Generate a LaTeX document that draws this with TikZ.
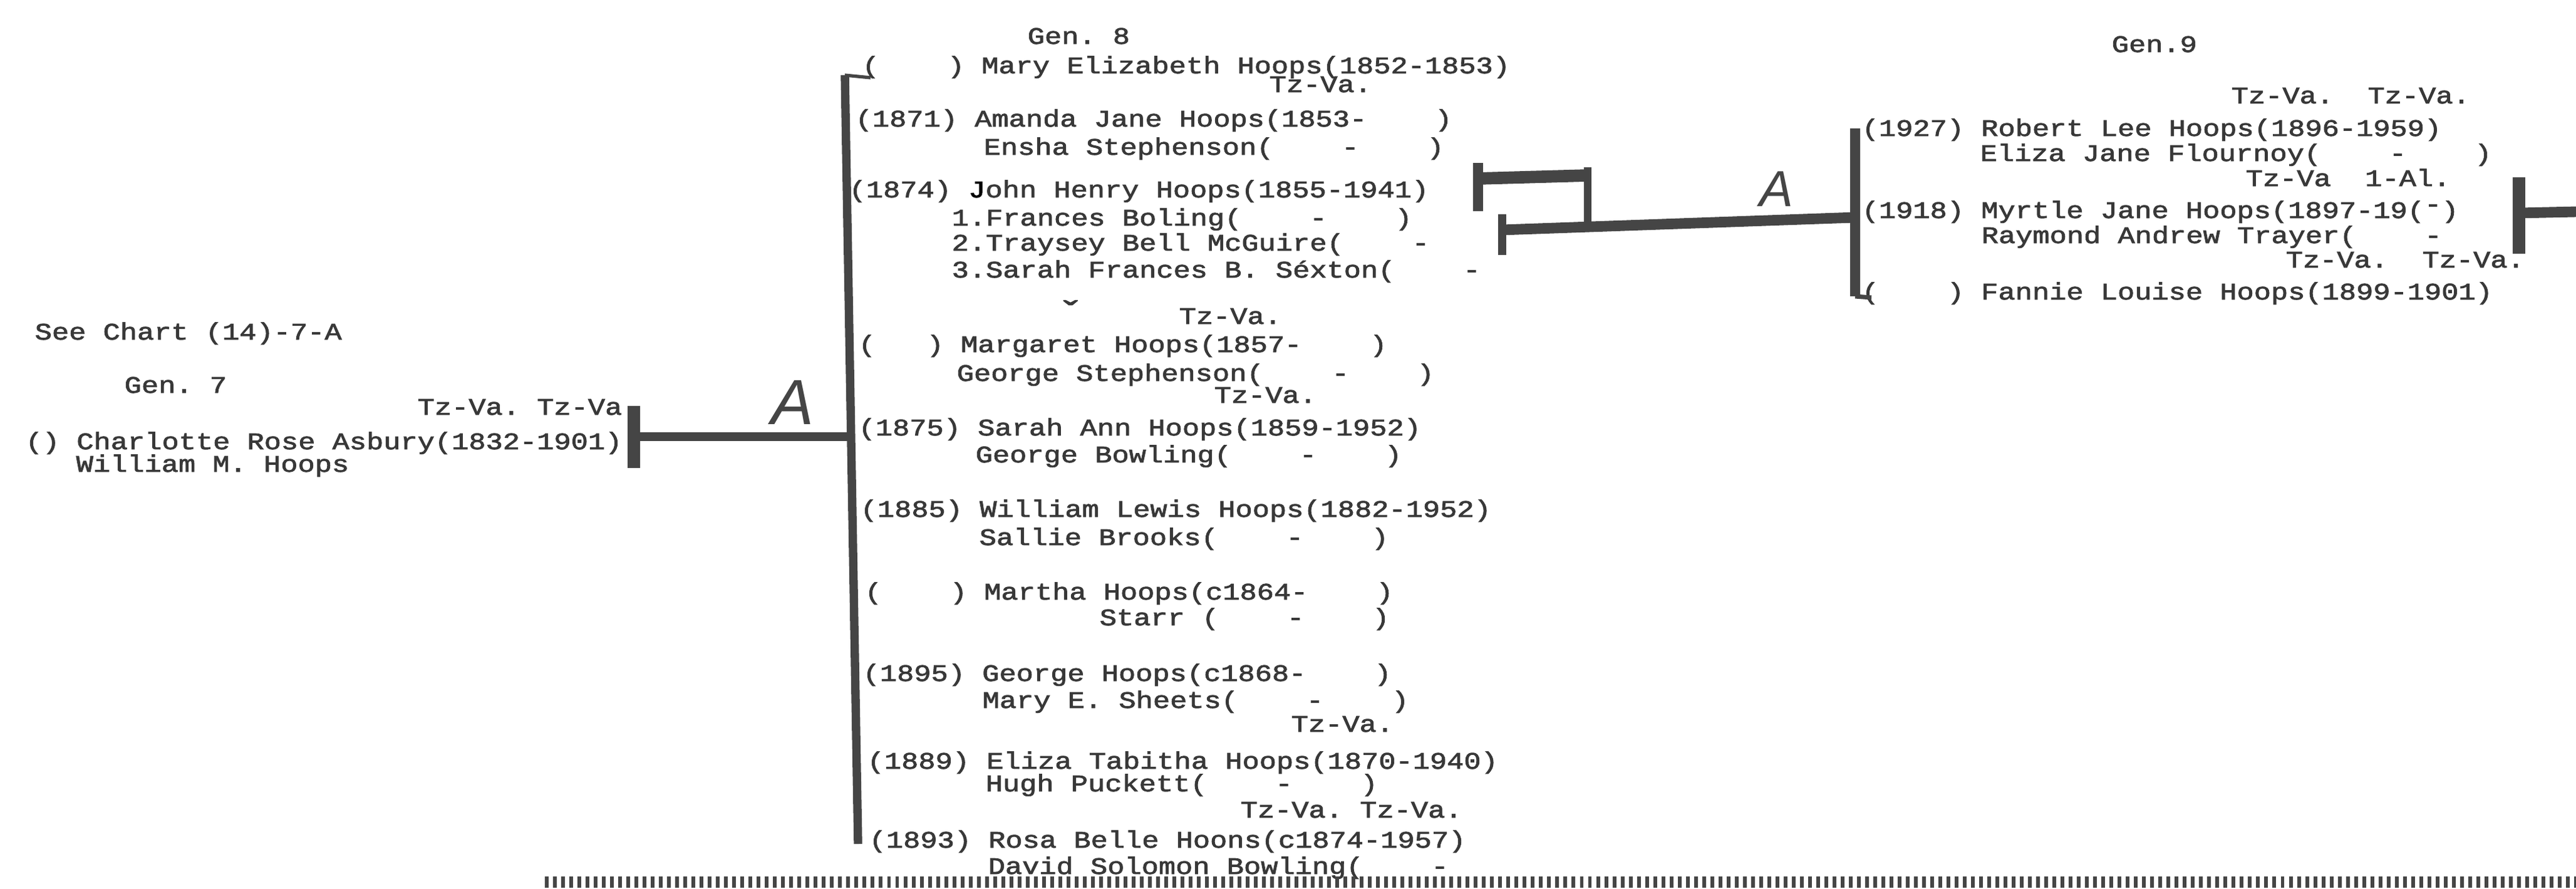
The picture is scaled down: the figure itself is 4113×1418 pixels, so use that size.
\documentclass[tikz,border=0pt]{standalone}
\usepackage{fontspec}
\usepackage{tikz}
\newfontfamily\typer[FakeStretch=1.2,FakeBold=2.2]{Liberation Mono}
\newfontfamily\handfont{Liberation Sans}
\definecolor{typeink}{HTML}{383838}
\definecolor{barink}{HTML}{454545}
\tikzstyle{typed}=[inner sep=0pt, text=typeink, font=\typer\fontsize{10.75pt}{12pt}\selectfont]
\tikzstyle{chart bar}=[draw=barink, line width=4pt, line cap=butt]
\tikzstyle{heavy bar}=[chart bar, line width=5.6pt]
\tikzstyle{thin bar}=[chart bar, line width=3.4pt]
\tikzstyle{hand mark}=[inner sep=0pt, text=barink, font=\handfont\itshape]
\tikzstyle{scan band}=[draw=barink, line width=5pt, dash pattern=on 1.7pt off 2pt]
\newcommand{\chartline}[4][]{
  \node [typed, anchor=base west, #1] (#2) at (#3) {#4}
}

\begin{document}
\begin{tikzpicture}[x=0.01cm, y=-0.01cm]
        \fill[white] (0,0) rectangle (4113,1418);
        \useasboundingbox (0,0) rectangle (4113,1418);

        % gen. 7
        \chartline{seechart}{55,542}{See~Chart~(14)-7-A};
        \chartline{gen7}{198,627}{Gen.~7};
        \chartline{charlotteplace}{666,662}{Tz-Va.~Tz-Va};
        \chartline{charlotte}{40,717}{()~Charlotte~Rose~Asbury(1832-1901)};
        \chartline{william}{121,753}{William~M.~Hoops};
        \node[hand mark, font=\handfont\itshape\fontsize{29pt}{30pt}\selectfont] (mark g7) at (1265,642) {A};

        % gen. 8
        \chartline{gen8}{1640,70}{Gen.~8};
        \chartline{mary}{1376,117}{(~~~~)~Mary~Elizabeth~Hoops(1852-1853)};
        \chartline{amandaplace}{2026,147}{Tz-Va.};
        \chartline{amanda}{1365,202}{(1871)~Amanda~Jane~Hoops(1853-~~~~)};
        \chartline{ensha}{1570,247}{Ensha~Stephenson(~~~~-~~~~)};
        \chartline{john}{1355,315}{(1874)~{\color{black}J}ohn~Henry~Hoops(1855-1941)};
        \chartline{frances}{1519,360}{1.Frances~Boling(~~~~-~~~~)};
        \chartline{traysey}{1519,400}{2.Traysey~Bell~McGuire(~~~~-};
        \chartline{sarahfr}{1519,443}{3.Sarah~Frances~B.~Séxton(~~~~-};
        \chartline{check}{1688,520}{\smash{\scalebox{1.5}{ˇ}}};
        \chartline{margaretplace}{1882,517}{Tz-Va.};
        \chartline{margaret}{1370,562}{(~~~)~Margaret~Hoops(1857-~~~~)};
        \chartline{georgest}{1527,608}{George~Stephenson(~~~~-~~~~)};
        \chartline{sarahplace}{1938,643}{Tz-Va.};
        \chartline{sarah}{1370,695}{(1875)~Sarah~Ann~Hoops(1859-1952)};
        \chartline{georgebo}{1557,738}{George~Bowling(~~~~-~~~~)};
        \chartline{williaml}{1373,825}{(1885)~William~Lewis~Hoops(1882-1952)};
        \chartline{sallie}{1563,870}{Sallie~Brooks(~~~~-~~~~)};
        \chartline{martha}{1380,957}{(~~~~)~Martha~Hoops(c1864-~~~~)};
        \chartline{starr}{1755,998}{Starr~(~~~~-~~~~)};
        \chartline{georgeh}{1377,1087}{(1895)~George~Hoops(c1868-~~~~)};
        \chartline{marye}{1568,1130}{Mary~E.~Sheets(~~~~-~~~~)};
        \chartline{elizaplace}{2061,1168}{Tz-Va.};
        \chartline{eliza}{1384,1227}{(1889)~Eliza~Tabitha~Hoops(1870-1940)};
        \chartline{hugh}{1573,1263}{Hugh~Puckett(~~~~-~~~~)};
        \chartline{rosaplace}{1980,1305}{Tz-Va.~Tz-Va.};
        \chartline{rosa}{1387,1353}{(1893)~Rosa~Belle~Hoons(c1874-1957)};
        \chartline{david}{1577,1395}{David~Solomon~Bowling(~~~~-};

        % gen. 9
        \chartline{gen9}{3371,83}{Gen.9};
        \chartline{robertplace}{3562,165}{Tz-Va.~~Tz-Va.};
        \chartline{robert}{2972,217}{(1927)~Robert~Lee~Hoops(1896-1959)};
        \chartline{elizaj}{3161,257}{Eliza~Jane~Flournoy(~~~~-~~~~)};
        \chartline{myrtleplace}{3585,297}{Tz-Va~~1-Al.};
        \chartline{myrtle}{2972,348}{(1918)~Myrtle~Jane~Hoops(1897-19(\raisebox{.5ex}{-})};
        \chartline{raymond}{3163,388}{Raymond~Andrew~Trayer(~~~~-};
        \chartline{fannieplace}{3649,427}{Tz-Va.~~Tz-Va.};
        \chartline{fannie}{2972,478}{(~~~~)~Fannie~Louise~Hoops(1899-1901)};
        \node[hand mark, font=\handfont\itshape\fontsize{23pt}{24pt}\selectfont] (mark g9) at (2836,302) {A};

        % bar ends
        \coordinate (g7 top) at (1012,648);
        \coordinate (g7 bot) at (1012,747);
        \coordinate (g7 tee) at (1012,697);
        \coordinate (g8 join) at (1359,697);
        \coordinate (g8 top) at (1349,120);
        \coordinate (g8 bot) at (1370,1347);
        \coordinate (g8 tick) at (1390,124);
        \coordinate (jh top) at (2360,260);
        \coordinate (jh bot) at (2360,337);
        \coordinate (jh tee) at (2360,285);
        \coordinate (jh corner) at (2535,280);
        \coordinate (jh drop top) at (2535,267);
        \coordinate (jh drop bot) at (2535,363);
        \coordinate (jh low top) at (2398,342);
        \coordinate (jh low bot) at (2398,407);
        \coordinate (jh low tee) at (2398,367);
        \coordinate (g9 join) at (2962,347);
        \coordinate (g9 top) at (2962,205);
        \coordinate (g9 bot) at (2962,473);
        \coordinate (g9 foot) at (2988,475);
        \coordinate (fr top) at (4022,283);
        \coordinate (fr bot) at (4022,405);
        \coordinate (fr tee) at (4022,340);
        \coordinate (fr east) at (4113,338);
        \coordinate (band west) at (870,1408);
        \coordinate (band east) at (4113,1408);

      \draw[heavy bar] (g7 top) -- (g7 bot);
      \draw[chart bar] (g7 tee) -- (g8 join);
      \draw[chart bar, line width=3.8pt] (g8 top) -- (g8 bot);
      \draw[thin bar, line width=1.5pt] (g8 top) -- (g8 tick);

      \draw[chart bar, line width=4.3pt] (jh top) -- (jh bot);
      \draw[heavy bar] (jh tee) -- (jh corner);
      \draw[thin bar] (jh drop top) -- (jh drop bot);
      \draw[thin bar, line width=3.7pt] (jh low top) -- (jh low bot);
      \draw[chart bar, line width=4.8pt] (jh low tee) -- (g9 join);

      \draw[chart bar, line width=4.3pt] (g9 top) -- (g9 bot);
      \draw[thin bar, line width=2pt] (g9 bot) -- (g9 foot);

      \draw[heavy bar] (fr top) -- (fr bot);
      \draw[chart bar, line width=4.8pt] (fr tee) -- (fr east);

      \draw[scan band] (band west) -- (band east);

\end{tikzpicture}
\end{document}
